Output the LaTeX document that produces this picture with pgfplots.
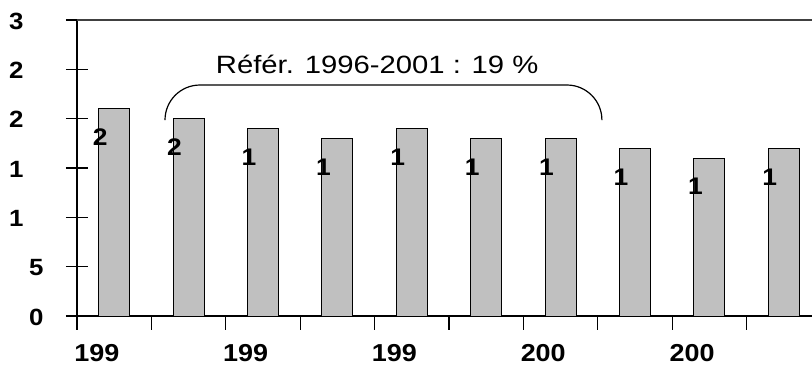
\documentclass[border=0pt]{standalone}
\usepackage{fontspec}
\setmainfont{Liberation Sans}
\newfontfamily\annfont[FakeStretch=1.17]{Liberation Sans}
\newfontfamily\numfont[FakeStretch=1.1]{Liberation Sans}
\usepackage{pgfplots}
\pgfplotsset{compat=1.18}
\usepackage{pgfplotstable}
\pgfplotstableread{
x y lab
0 21 2
1 20 2
2 19 1
3 18 1
4 19 1
5 18 1
6 18 1
7 17 1
8 16 1
9 17 1
}\bardata
\definecolor{barfill}{RGB}{192,192,192}
\definecolor{topline}{RGB}{64,64,64}
\begin{document}
\begin{tikzpicture}
\useasboundingbox (-77pt,-50pt) rectangle (735pt,316pt);
\begin{axis}[
  scale only axis, width=735pt, height=296pt,
  xmin=-0.5, xmax=9.38, ymin=0, ymax=30,
  axis x line*=bottom, axis y line*=left,
  axis line style={-, line width=1.2pt, black},
  xtick pos=bottom, ytick pos=left,
  tick align=center,
  tick style={line width=1.1pt, black},
  major tick length=14pt,
  xtick={-0.5,0.5,...,8.5}, xticklabels={},
  extra x ticks={0,2,4,6,8},
  extra x tick labels={199,199,199,200,200},
  extra x tick style={major tick length=0pt, tick style={draw=none},
    xticklabel style={anchor=north west, inner sep=0pt, xshift=-40pt, yshift=-28pt,
      font=\numfont\bfseries\fontsize{24.5}{29}\selectfont}},
  ytick=\empty,
  extra y ticks={0,5,...,30},
  extra y tick labels={\hspace{20pt}0,\hspace{20pt}5,1,1,2,2,3},
  extra y tick style={major tick length=22pt,
    yticklabel style={anchor=west, inner sep=0pt, xshift=-57pt, yshift=-1pt,
    font=\numfont\bfseries\fontsize{23.5}{28}\selectfont}},
  ybar, bar width=31pt,
  point meta=explicit symbolic,
  nodes near coords,
  every node near coord/.append style={anchor=center, inner sep=0pt,
    xshift=-14pt, yshift=-28.5pt, font=\numfont\bfseries\fontsize{24}{29}\selectfont, black},
  clip=false,
]
\addplot[fill=barfill, draw=black, line width=0.9pt] table[x=x, y=y, meta=lab] {\bardata};
\draw[topline, line width=1.3pt] (rel axis cs:0,1) -- (rel axis cs:1,1);
\draw[line width=1.2pt, black] (axis cs:0.683,19.86) .. controls (axis cs:0.683,21.82) and (axis cs:0.892,23.41) .. (axis cs:1.153,23.41)
  -- (axis cs:6.086,23.41) .. controls (axis cs:6.345,23.41) and (axis cs:6.556,21.82) .. (axis cs:6.556,19.86);
\node[font=\annfont\fontsize{25}{30}\selectfont, inner sep=0pt] at (axis cs:3.535,25.54) {Référ. 1996-2001 : 19 \%};
\end{axis}
\end{tikzpicture}
\end{document}
